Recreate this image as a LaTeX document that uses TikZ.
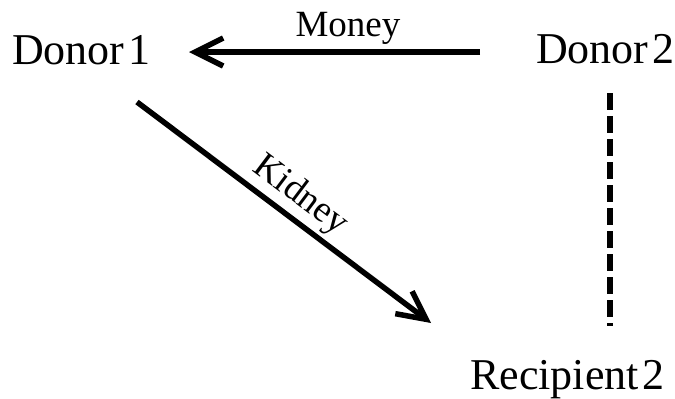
\documentclass[tikz,border=0pt]{standalone}
\usepackage{fontspec}
\setmainfont{Liberation Serif}
\usetikzlibrary{arrows.meta}
\newcommand\tightsp{\spaceskip=4pt\relax}
\begin{document}
\begin{tikzpicture}[x=1pt,y=1pt,
  party/.style={font=\fontsize{44}{50}\selectfont, inner sep=0pt},
  lbl/.style={font=\fontsize{37}{42}\selectfont, inner sep=0pt},
  arr/.style={line width=5.5pt, -{Straight Barb[length=28pt,width=28pt]}},
  dashline/.style={line width=5.5pt, dash pattern=on 17pt off 6pt}]
\useasboundingbox (0,0) rectangle (675,-399);
\node[party, anchor=base west] (d1) at (12,-64) {\tightsp Donor 1};
\node[party, anchor=base west] (d2) at (536,-63) {\tightsp Donor 2};
\node[party, anchor=base west] (r2) at (470,-389) {\tightsp Recipient 2};
\coordinate (ms) at (480,-52);
\coordinate (me) at (189,-52);
\coordinate (ks) at (137,-102);
\coordinate (ke) at (431,-323);
\coordinate (ds) at (610,-93);
\coordinate (de) at (610,-326);
\draw[arr] (ms) -- (me);
\draw[arr] (ks) -- (ke);
\draw[dashline] (ds) -- (de);
\node[lbl, anchor=base] (money) at (348,-36) {Money};
\node[lbl, anchor=base, rotate=-37] (kidney) at (295,-203) {Kidney};
\end{tikzpicture}
\end{document}
